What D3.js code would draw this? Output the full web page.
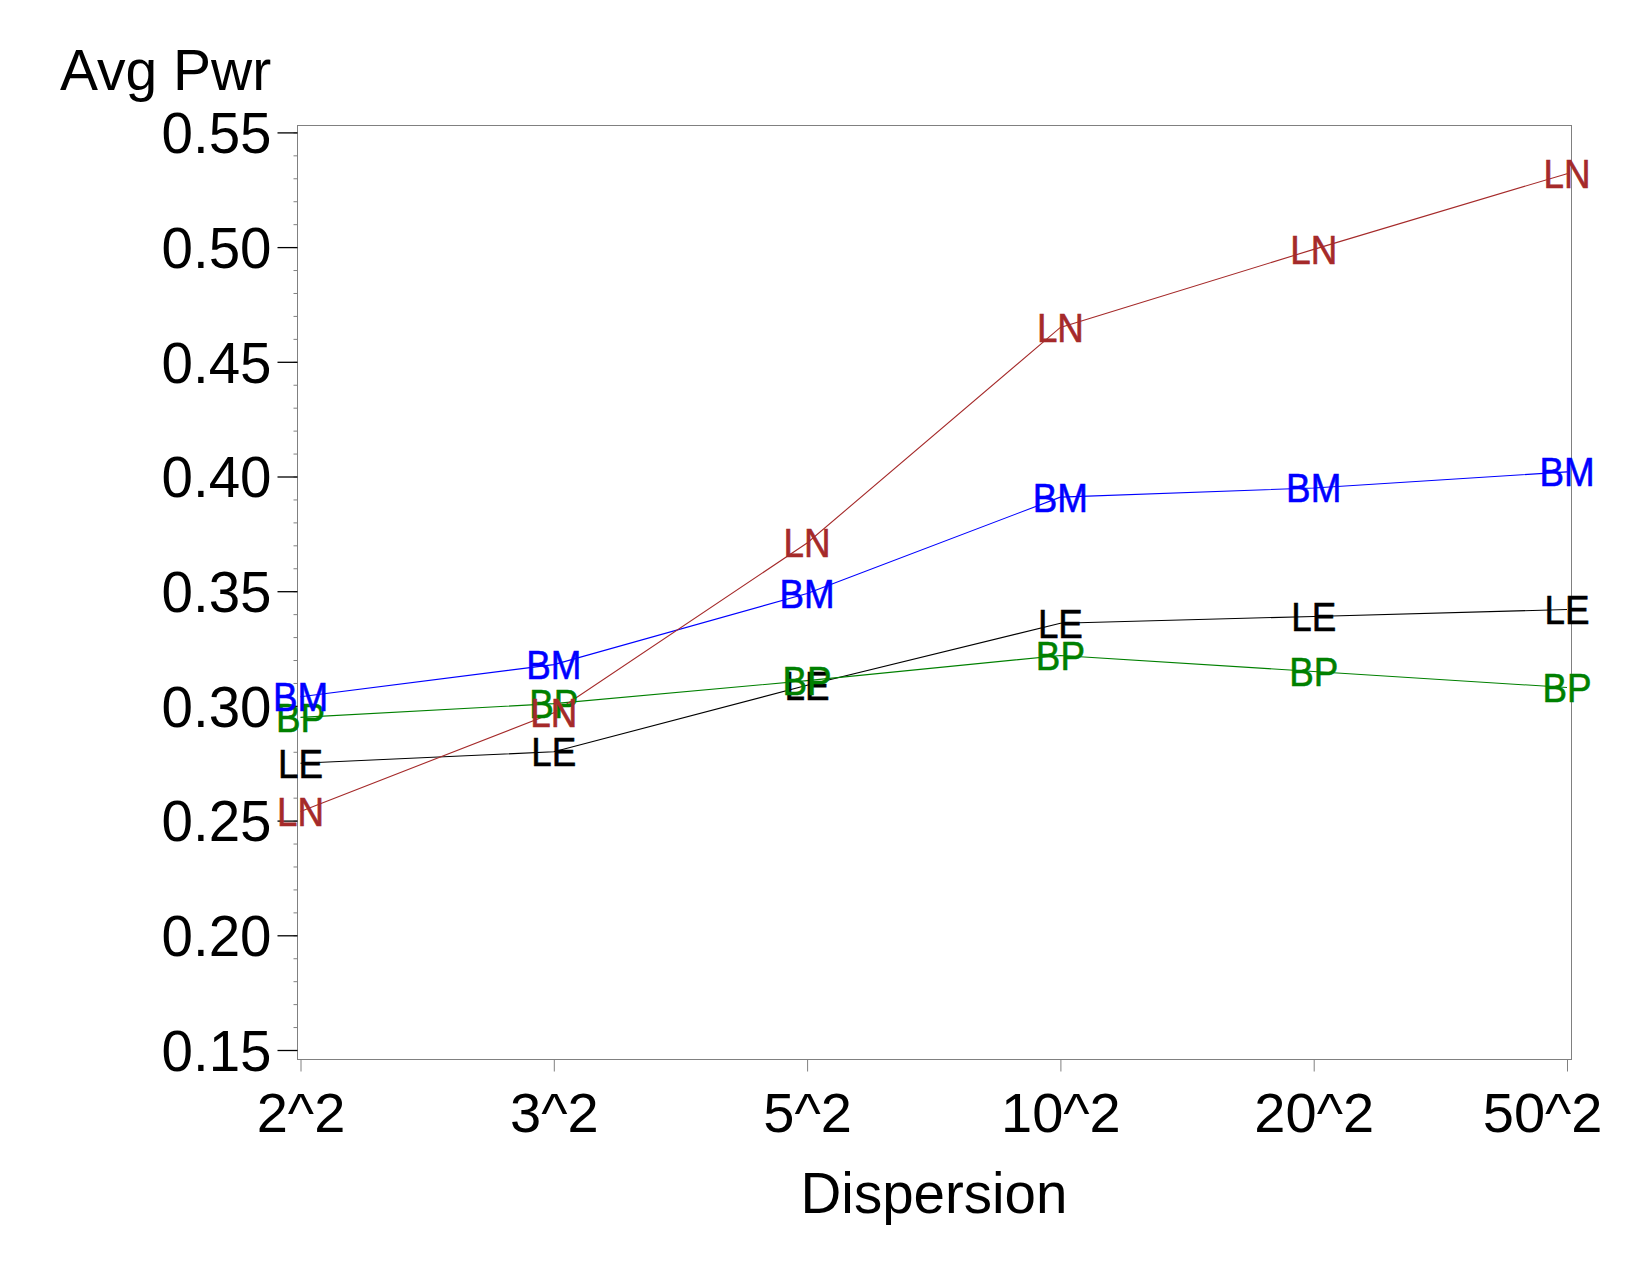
<!DOCTYPE html>
<html>
<head>
<meta charset="utf-8">
<script src="https://cdn.jsdelivr.net/npm/d3@7"></script>
<style>
  html, body { margin: 0; padding: 0; background: #fff; }
  svg { display: block; }
  text { font-family: "Liberation Sans", Arial, Helvetica, sans-serif; }
</style>
</head>
<body>
<svg id="chart" width="1650" height="1275"></svg>
<script>
// ---- data ----
const categories = ["2^2", "3^2", "5^2", "10^2", "20^2", "50^2"];
const seriesNames = ["LE", "BP", "BM", "LN"];
const valuesLE = [0.275, 0.280, 0.309, 0.336, 0.339, 0.342];
const valuesBP = [0.295, 0.301, 0.311, 0.322, 0.315, 0.308];
const valuesBM = [0.304, 0.318, 0.349, 0.391, 0.395, 0.402];
const valuesLN = [0.254, 0.297, 0.371, 0.465, 0.499, 0.532];
const yMajorTicks = [0.15, 0.20, 0.25, 0.30, 0.35, 0.40, 0.45, 0.50, 0.55];
const yTitle = "Avg Pwr";
const xTitle = "Dispersion";

const seriesColors = { LE: "#000000", BP: "#008000", BM: "#0000FF", LN: "#A52A2A" };
const seriesValues = { LE: valuesLE, BP: valuesBP, BM: valuesBM, LN: valuesLN };

// ---- layout ----
const frame = { left: 297, right: 1571, top: 125, bottom: 1059 };
const svg = d3.select("#chart");

const x = d3.scalePoint().domain(categories).range([300.5, 1567]);
const y = d3.scaleLinear().domain([0.15, 0.55]).range([1050, 132.4]);

// frame
svg.append("rect")
  .attr("x", frame.left + 0.5).attr("y", frame.top + 0.5)
  .attr("width", frame.right - frame.left).attr("height", frame.bottom - frame.top)
  .attr("fill", "none").attr("stroke", "#808080").attr("stroke-width", 1);

// minor y ticks
const minorTicks = d3.range(0, 41).map(i => 0.15 + i * 0.01).filter(v => v <= 0.5501);
const yMinor = svg.append("g").attr("transform", `translate(${frame.left + 0.5},0)`)
  .call(d3.axisLeft(y).tickValues(minorTicks).tickSize(4).tickFormat(""));
yMinor.select(".domain").remove();
yMinor.selectAll("line").attr("stroke", "#808080");

// major y ticks
const yAxis = svg.append("g").attr("transform", `translate(${frame.left + 0.5},0)`)
  .call(d3.axisLeft(y).tickValues(yMajorTicks).tickSize(20).tickPadding(6).tickFormat(d3.format(".2f")));
yAxis.select(".domain").remove();
yAxis.selectAll("line").attr("stroke", "#000").attr("stroke-width", 1.3);
yAxis.selectAll("text")
  .attr("font-size", 56.5).attr("fill", "#000").attr("dy", "0.36em")
  .style("font-family", '"Liberation Sans", Arial, sans-serif');

// x axis
const xAxis = svg.append("g").attr("transform", `translate(0,${frame.bottom + 0.5})`)
  .call(d3.axisBottom(x).tickSize(12).tickPadding(21));
xAxis.select(".domain").remove();
xAxis.selectAll("line").attr("stroke", "#808080");
xAxis.selectAll("text")
  .attr("font-size", 56).attr("fill", "#000")
  .style("font-family", '"Liberation Sans", Arial, sans-serif');
// keep the last tick label inside the page like the reference
xAxis.selectAll(".tick").filter(d => d === categories[categories.length - 1])
  .select("text").attr("text-anchor", "end").attr("x", 1602 - x(categories[categories.length - 1]));

// titles
svg.append("text").attr("x", 60).attr("y", 90)
  .attr("font-size", 57).attr("fill", "#000").text(yTitle);
svg.append("text").attr("x", (frame.left + frame.right) / 2).attr("y", 1213)
  .attr("text-anchor", "middle").attr("font-size", 56.5).attr("fill", "#000").text(xTitle);

// lines
const line = d3.line().x((d, i) => x(categories[i])).y(d => y(d));
seriesNames.forEach(name => {
  svg.append("path")
    .datum(seriesValues[name])
    .attr("d", line)
    .attr("fill", "none")
    .attr("stroke", seriesColors[name])
    .attr("stroke-width", 1.1);
});

// point labels
seriesNames.forEach(name => {
  svg.append("g").selectAll("text")
    .data(seriesValues[name])
    .join("text")
    .attr("transform", (d, i) => `translate(${x(categories[i])},${y(d)}) scale(0.92,1)`)
    .attr("dy", "0.36em")
    .attr("text-anchor", "middle")
    .attr("font-size", 40)
    .attr("fill", seriesColors[name])
    .attr("stroke", seriesColors[name])
    .attr("stroke-width", 0.6)
    .text(name);
});
</script>
</body>
</html>
